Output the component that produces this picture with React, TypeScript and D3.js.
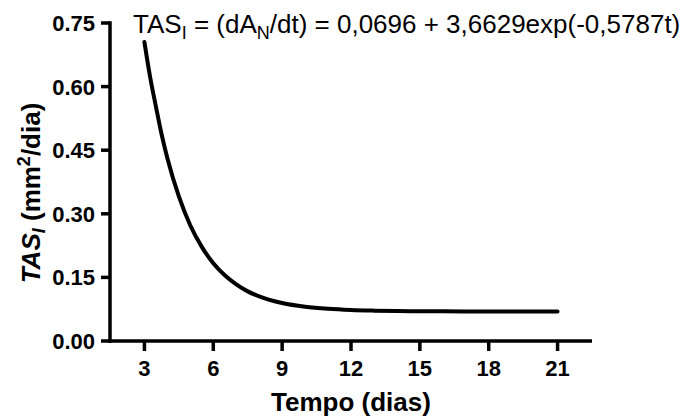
import React from "react";
import * as d3 from "d3";

const tDays = [3, 3.25, 3.5, 3.75, 4, 4.5, 5, 5.5, 6, 6.5, 7, 7.5, 8, 9, 10, 11, 12, 13, 14, 15, 16, 18, 21];
const tasValues = [0.705, 0.622, 0.553, 0.487, 0.431, 0.341, 0.2725, 0.222, 0.1833, 0.155, 0.1334, 0.117, 0.1053, 0.0896, 0.0808, 0.0759, 0.0731, 0.0716, 0.0707, 0.0702, 0.07, 0.0697, 0.0696];
const xTicks = [3, 6, 9, 12, 15, 18, 21];
const yTicks = [0, 0.15, 0.3, 0.45, 0.6, 0.75];

const W = 691;
const H = 419;
const FONT = "'Liberation Sans', Arial, Helvetica, sans-serif";

export default function App() {
  const x = d3.scaleLinear().domain([1.5, 22.5]).range([110, 592]);
  const y = d3.scaleLinear().domain([0, 0.75]).range([341, 23]);
  const pts = tDays.map((t, i) => [t, tasValues[i]] as [number, number]);
  const line = d3
    .line<[number, number]>()
    .x((d) => x(d[0]))
    .y((d) => y(d[1]))
    .curve(d3.curveMonotoneX);

  return (
    <svg width={W} height={H} style={{ position: "absolute", left: 0, top: 0, background: "#fff" }} fontFamily={FONT}>
      <rect x={0} y={0} width={W} height={H} fill="#fff" />
      {/* axes */}
      <line x1={x(1.5)} x2={x(1.5)} y1={y(0.75) - 1.75} y2={y(0) + 1.75} stroke="#000" strokeWidth={3.5} />
      <line x1={x(1.5) - 1.75} x2={x(22.5)} y1={y(0)} y2={y(0)} stroke="#000" strokeWidth={3.5} />
      {yTicks.map((v) => (
        <g key={"y" + v}>
          <line x1={x(1.5) - 9} x2={x(1.5)} y1={y(v)} y2={y(v)} stroke="#000" strokeWidth={3.5} />
          <text x={x(1.5) - 15} y={y(v)} dy="0.36em" textAnchor="end" fontSize={22} fontWeight="bold">
            {v.toFixed(2)}
          </text>
        </g>
      ))}
      {xTicks.map((v) => (
        <g key={"x" + v}>
          <line x1={x(v)} x2={x(v)} y1={y(0)} y2={y(0) + 10} stroke="#000" strokeWidth={3.5} />
          <text x={x(v)} y={y(0) + 35} textAnchor="middle" fontSize={22} fontWeight="bold">
            {v}
          </text>
        </g>
      ))}
      {/* curve */}
      <path d={line(pts) || ""} fill="none" stroke="#000" strokeWidth={4} strokeLinecap="round" />
      {/* titles */}
      <text x={351} y={411} textAnchor="middle" fontSize={26} fontWeight="bold">
        Tempo (dias)
      </text>
      <text transform="translate(40,193) rotate(-90)" textAnchor="middle" fontSize={26} fontWeight="bold">
        <tspan fontStyle="italic">TAS</tspan>
        <tspan fontStyle="italic" fontSize={18} dy={5}>I</tspan>
        <tspan dy={-5}> (mm</tspan>
        <tspan fontSize={18} dy={-10}>2</tspan>
        <tspan dy={10}>/dia)</tspan>
      </text>
      <text x={133} y={33} fontSize={26}>
        <tspan>TAS</tspan>
        <tspan fontSize={18} dy={6}>I</tspan>
        <tspan dy={-6}> = (dA</tspan>
        <tspan fontSize={18} dy={6}>N</tspan>
        <tspan dy={-6}>/dt) = 0,0696 + 3,6629exp(-0,5787t)</tspan>
      </text>
    </svg>
  );
}
